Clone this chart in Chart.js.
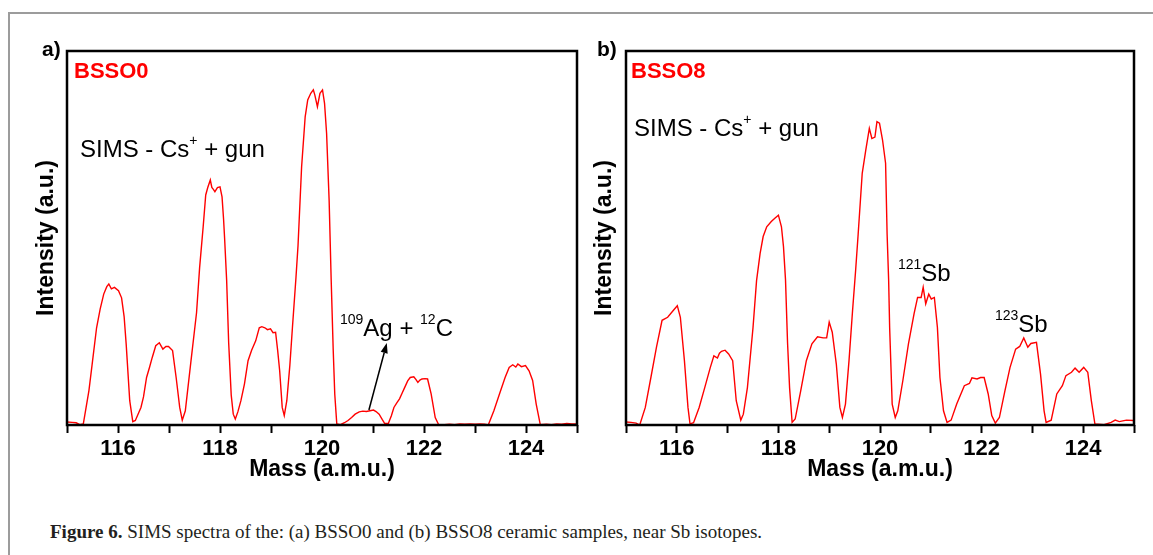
<!DOCTYPE html>
<html><head><meta charset="utf-8">
<script src="https://cdn.jsdelivr.net/npm/chart.js@4.4.0/dist/chart.umd.min.js"></script>
<style>
html,body{margin:0;padding:0;background:#fff;width:1153px;height:555px;overflow:hidden;position:relative}
#frame{position:absolute;left:8px;top:12px;width:1200px;height:600px;border-top:2px solid #9c9c9c;border-left:2px solid #9c9c9c}
#ca{position:absolute;left:0;top:0}
#cb{position:absolute;left:575px;top:0}
#cap{position:absolute;left:50px;top:522px;font:19px "Liberation Serif","Times New Roman",serif;line-height:19px;white-space:nowrap;color:#231f20}
</style></head>
<body>
<div id="frame"></div>
<canvas id="ca" width="590" height="490"></canvas>
<canvas id="cb" width="578" height="490"></canvas>
<div id="cap"><b>Figure 6.</b> SIMS spectra of the: (a) BSSO0 and (b) BSSO8 ceramic samples, near Sb isotopes.</div>
<script>
// ---- data ----
const massTicks = [116, 118, 120, 122, 124];

const massA = [115.00,115.10,115.18,115.25,115.32,115.43,115.50,115.58,115.65,115.72,115.78,115.82,115.87,115.93,116.01,116.07,116.12,116.16,116.23,116.29,116.34,116.45,116.50,116.56,116.62,116.67,116.74,116.81,116.85,116.88,116.94,116.99,117.07,117.14,117.21,117.26,117.32,117.43,117.54,117.60,117.67,117.72,117.76,117.81,117.84,117.87,117.90,117.95,118.00,118.04,118.07,118.09,118.13,118.17,118.22,118.26,118.30,118.35,118.41,118.48,118.55,118.62,118.70,118.77,118.82,118.88,118.93,118.99,119.04,119.09,119.13,119.17,119.22,119.26,119.31,119.37,119.42,119.49,119.53,119.60,119.67,119.72,119.78,119.83,119.86,119.91,119.96,120.01,120.05,120.09,120.14,120.18,120.22,120.25,120.29,120.36,120.44,120.51,120.58,120.65,120.73,120.80,120.87,120.94,121.01,121.06,121.12,121.18,121.23,121.30,121.36,121.41,121.47,121.52,121.57,121.62,121.68,121.73,121.80,121.84,121.88,121.92,121.96,122.02,122.07,122.14,122.22,122.29,122.40,122.50,122.60,122.70,122.80,122.90,123.00,123.10,123.19,123.26,123.37,123.48,123.59,123.67,123.74,123.80,123.84,123.91,123.99,124.06,124.13,124.20,124.28,124.40,124.50,124.60,124.70,124.80,124.90,125.00];
const intensityA = [0.8,0.7,0.6,0.1,0.3,9.2,17,26,31,35,37,37.7,36.4,36.8,35.9,34,29,21.7,6.5,0.9,1.2,4.7,7.5,12.7,15.5,18,21.2,22,21,20.3,21,21,19.9,12.7,4.7,1.3,3.8,17,30,42,53,61.5,63.5,65.5,63.5,63,62.4,63.5,63.7,61,55,50,38.8,22,8,2.9,1.6,3.5,6.5,11,17.2,20,22.5,26,26.3,26,25.5,25.7,24.7,24.8,20,14.5,4.7,2.5,6.5,16,26,39.5,48,69,82.4,86.9,88.7,89.6,88.2,85.1,88.7,89.6,86,78,60,38.8,20,8.3,0.3,0.1,0.6,1.2,2.0,2.9,3.5,3.7,3.6,3.8,4.0,3.6,2.9,1.5,0.4,0.4,2.5,4.7,6,7,8.5,10,11.8,12.7,12.9,12.2,11.4,12,12.3,12.4,12.3,8.3,2,0,0.1,0.2,0.1,0.3,0.2,0.3,0.2,0.3,0.2,0,3.8,8.3,12.7,15.4,16.1,15.5,16.3,15.6,15.9,14.5,11.9,5.6,0.1,0.2,0.1,0.3,0.2,0.4,0.3,0.3];

const massB = [115.00,115.10,115.20,115.27,115.38,115.49,115.60,115.71,115.82,115.93,116.01,116.07,116.15,116.22,116.26,116.33,116.44,116.55,116.66,116.73,116.80,116.84,116.88,116.95,117.02,117.10,117.17,117.26,117.31,117.39,117.50,117.57,117.64,117.70,117.77,117.86,117.93,118.00,118.06,118.10,118.14,118.18,118.22,118.27,118.33,118.44,118.55,118.66,118.77,118.88,118.95,119.00,119.06,119.14,119.21,119.26,119.32,119.39,119.46,119.52,119.57,119.65,119.72,119.79,119.84,119.90,119.94,119.99,120.05,120.11,120.14,120.17,120.19,120.24,120.30,120.35,120.45,120.56,120.67,120.74,120.81,120.85,120.90,120.96,121.01,121.07,121.13,121.18,121.25,121.32,121.40,121.51,121.66,121.76,121.81,121.91,121.98,122.05,122.13,122.20,122.27,122.35,122.46,122.56,122.67,122.75,122.83,122.91,122.97,123.08,123.16,123.23,123.27,123.37,123.48,123.59,123.66,123.77,123.84,123.92,124.01,124.09,124.16,124.23,124.41,124.55,124.63,124.71,124.78,124.85,124.99];
const intensityB = [0.8,0.7,0.5,0,4.7,12.7,20.8,28,28.8,30.6,31.9,28.8,17.2,4.7,0.3,0.6,4.7,10,15.4,18.5,17.9,19.2,19.7,20,19,17.2,6.5,1.3,2.9,10,26,38.6,45.9,50.4,53,54.4,55.3,56.1,53,47.7,38.8,22,10,0.7,1.6,9.2,17.2,21.7,23.6,23.3,23.3,27.5,24.8,16.3,4.7,2,5.6,17.2,30.6,41.3,51,67.3,73.5,79.3,76.6,77,81.1,80.7,76.2,70,51,38.8,26,5.6,2,3.8,11.9,21.7,29.7,34.1,34.1,36.8,32.4,35,33.7,34.1,26.1,12.7,3.8,0.7,1.3,5.6,10.5,11.1,12.6,12.3,12.7,12.7,8.3,2.5,0.5,2,9.2,15.4,20.3,21,23.3,20.8,21.8,22.1,13.6,3.8,0.7,1.3,8.3,10.5,13.2,14.1,15.2,14.1,15.4,14.1,6.5,0.3,0.1,0.7,1.3,0.9,1.1,1.3,1.2];

// ---- helpers ----
const FAM = '"Liberation Sans", Arial, Helvetica, sans-serif';
Chart.defaults.font.family = FAM;
Chart.defaults.color = '#000';

function rich(ctx, x, y, parts, size, color, bold) {
  let cx = x;
  ctx.fillStyle = color;
  ctx.textBaseline = 'alphabetic';
  ctx.textAlign = 'left';
  for (const p of parts) {
    const fs = p.sup ? Math.round(size * 0.6) : size;
    ctx.font = (bold ? 'bold ' : '') + fs + 'px ' + FAM;
    ctx.fillText(p.t, cx, p.sup ? y - size * 0.5 : y);
    cx += ctx.measureText(p.t).width;
  }
}

function arrow(ctx, x1, y1, x2, y2) {
  const a = Math.atan2(y2 - y1, x2 - x1), L = 10, W = 3.6;
  ctx.strokeStyle = '#000'; ctx.fillStyle = '#000'; ctx.lineWidth = 1.5;
  ctx.beginPath(); ctx.moveTo(x1, y1);
  ctx.lineTo(x2 - L * Math.cos(a), y2 - L * Math.sin(a)); ctx.stroke();
  ctx.beginPath();
  ctx.moveTo(x2, y2);
  ctx.lineTo(x2 - L * Math.cos(a) + W * Math.sin(a), y2 - L * Math.sin(a) - W * Math.cos(a));
  ctx.lineTo(x2 - L * Math.cos(a) - W * Math.sin(a), y2 - L * Math.sin(a) + W * Math.cos(a));
  ctx.closePath(); ctx.fill();
}

function makeChart(id, mass, inten, pad, yWidth, decorate) {
  const pts = mass.map((m, i) => ({ x: m, y: inten[i] }));
  return new Chart(document.getElementById(id), {
    type: 'line',
    data: { datasets: [{ data: pts, borderColor: '#ff0000', borderWidth: 1.4, pointRadius: 0, tension: 0, fill: false }] },
    options: {
      responsive: false, animation: false, devicePixelRatio: 1,
      layout: { padding: pad },
      plugins: { legend: { display: false }, tooltip: { enabled: false } },
      scales: {
        x: {
          type: 'linear', min: 115, max: 125,
          ticks: { stepSize: 1, autoSkip: false, maxRotation: 0, color: '#000', padding: 3,
                   font: { size: 22, weight: 'bold' },
                   callback: v => massTicks.includes(v) ? String(v) : '' },
          grid: { display: true, drawOnChartArea: false, drawTicks: true, tickLength: 8, tickColor: '#000', tickWidth: 2 },
          border: { display: false },
          title: { display: true, text: 'Mass (a.m.u.)', color: '#000', font: { size: 23, weight: 'bold' }, padding: { top: 0, bottom: 3 } },
          afterFit: s => { s.height = 61; }
        },
        y: {
          min: 0, max: 100,
          ticks: { display: false },
          grid: { display: false },
          border: { display: false },
          title: { display: true, text: 'Intensity (a.u.)', color: '#000', font: { size: 23, weight: 'bold' }, padding: { top: 3, bottom: 0 } },
          afterFit: s => { s.width = yWidth; }
        }
      }
    },
    plugins: [{
      id: 'deco',
      afterDraw(chart) {
        const { ctx, chartArea: { left, top, right, bottom } } = chart;
        ctx.save();
        ctx.strokeStyle = '#000'; ctx.lineWidth = 2.5;
        ctx.strokeRect(left, top, right - left, bottom - top);
        decorate(ctx, chart);
        ctx.restore();
      }
    }]
  });
}

// panel a
makeChart('ca', massA, intensityA, { left: 30, right: 13, top: 51, bottom: 4 }, 37, (ctx, chart) => {
  const xs = chart.scales.x, ys = chart.scales.y;
  rich(ctx, 42, 56, [{ t: 'a)' }], 21, '#000', true);
  rich(ctx, 74, 78, [{ t: 'BSSO0' }], 22, '#ff0000', true);
  rich(ctx, 80, 157, [{ t: 'SIMS - Cs' }, { t: '+', sup: true }, { t: ' + gun' }], 24, '#000', false);
  rich(ctx, 340, 336, [{ t: '109', sup: true }, { t: 'Ag + ' }, { t: '12', sup: true }, { t: 'C' }], 24, '#000', false);
  arrow(ctx, xs.getPixelForValue(120.92), ys.getPixelForValue(4), xs.getPixelForValue(121.27), ys.getPixelForValue(21.9));
});

// panel b
makeChart('cb', massB, intensityB, { left: 13, right: 19, top: 51, bottom: 4 }, 38, (ctx) => {
  rich(ctx, 22, 56, [{ t: 'b)' }], 21, '#000', true);
  rich(ctx, 56, 78, [{ t: 'BSSO8' }], 22, '#ff0000', true);
  rich(ctx, 59, 136, [{ t: 'SIMS - Cs' }, { t: '+', sup: true }, { t: ' + gun' }], 24, '#000', false);
  rich(ctx, 323, 281, [{ t: '121', sup: true }, { t: 'Sb' }], 24, '#000', false);
  rich(ctx, 420, 332, [{ t: '123', sup: true }, { t: 'Sb' }], 24, '#000', false);
});
</script>
</body></html>
